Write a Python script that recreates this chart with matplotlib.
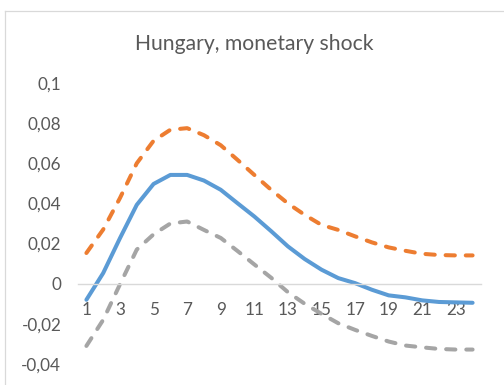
import matplotlib
matplotlib.use("Agg")
import matplotlib.pyplot as plt
from matplotlib.lines import Line2D
from matplotlib.ticker import FixedLocator, FuncFormatter

plt.rcParams["font.family"] = ["Lato", "DejaVu Sans"]

# Impulse response horizon (periods)
periods = list(range(1, 25))

# Point estimate and confidence bands
response = [-0.0080, 0.0053, 0.0227, 0.0393, 0.0497, 0.0542, 0.0542, 0.0514,
            0.0468, 0.0401, 0.0335, 0.0262, 0.0186, 0.0123, 0.0070, 0.0028,
            0.0003, -0.0030, -0.0058, -0.0068, -0.0083, -0.0091, -0.0093, -0.0095]
upper = [0.0153, 0.0270, 0.0427, 0.0600, 0.0712, 0.0767, 0.0775, 0.0740,
         0.0690, 0.0617, 0.0542, 0.0468, 0.0400, 0.0343, 0.0293, 0.0268,
         0.0236, 0.0206, 0.0181, 0.0164, 0.0149, 0.0143, 0.0141, 0.0141]
lower = [-0.0310, -0.0180, -0.0003, 0.0170, 0.0246, 0.0300, 0.0310, 0.0268,
         0.0228, 0.0163, 0.0096, 0.0030, -0.0042, -0.0100, -0.0150, -0.0197,
         -0.0230, -0.0260, -0.0288, -0.0308, -0.0317, -0.0325, -0.0328, -0.0328]

y_ticks = [-0.04, -0.02, 0.0, 0.02, 0.04, 0.06, 0.08, 0.1]
x_tick_labels = list(range(1, 25, 2))

title = "Hungary, monetary shock"

text_color = "#595959"
frame_color = "#d9d9d9"

fig = plt.figure(figsize=(5.04, 3.85), dpi=100)
ax = fig.add_axes([78 / 504, 21 / 385, 403 / 504, 281 / 385])

lw = 2.9
ax.plot(periods, response, color="#5b9bd5", lw=lw, solid_capstyle="round",
        solid_joinstyle="round")
ax.plot(periods, upper, color="#ed7d31", lw=lw, dashes=(2.3, 2.7),
        dash_capstyle="round")
ax.plot(periods, lower, color="#a5a5a5", lw=lw, dashes=(2.3, 2.7),
        dash_capstyle="round")

ax.set_xlim(0.5, 24.5)
ax.set_ylim(-0.04, 0.1)

for side in ("left", "right", "top"):
    ax.spines[side].set_visible(False)
ax.spines["bottom"].set_position(("data", 0))
ax.spines["bottom"].set_color(frame_color)
ax.spines["bottom"].set_linewidth(1.0)

ax.xaxis.set_major_locator(FixedLocator(x_tick_labels))
ax.set_xticklabels([str(v) for v in x_tick_labels])
ax.yaxis.set_major_locator(FixedLocator(y_ticks))


def comma_fmt(v, pos):
    if abs(v) < 1e-12:
        return "0"
    s = ("%.2f" % v).rstrip("0")
    return s.replace(".", ",")


ax.yaxis.set_major_formatter(FuncFormatter(comma_fmt))
ax.tick_params(axis="both", length=0, labelsize=12.3, labelcolor=text_color)
ax.tick_params(axis="x", pad=13)
ax.tick_params(axis="y", pad=12)

fig.text(254 / 504, 1 - 44 / 385, title, ha="center", va="center",
         fontsize=15.2, color=text_color)

# Chart area frame
fig.add_artist(Line2D([4.5 / 504, 1.0], [1 - 10.5 / 385, 1 - 10.5 / 385],
                      transform=fig.transFigure, color=frame_color, lw=0.9))
fig.add_artist(Line2D([4.5 / 504, 4.5 / 504], [0.0, 1 - 10.5 / 385],
                      transform=fig.transFigure, color=frame_color, lw=0.9))

fig.savefig("out.png", dpi=100)
